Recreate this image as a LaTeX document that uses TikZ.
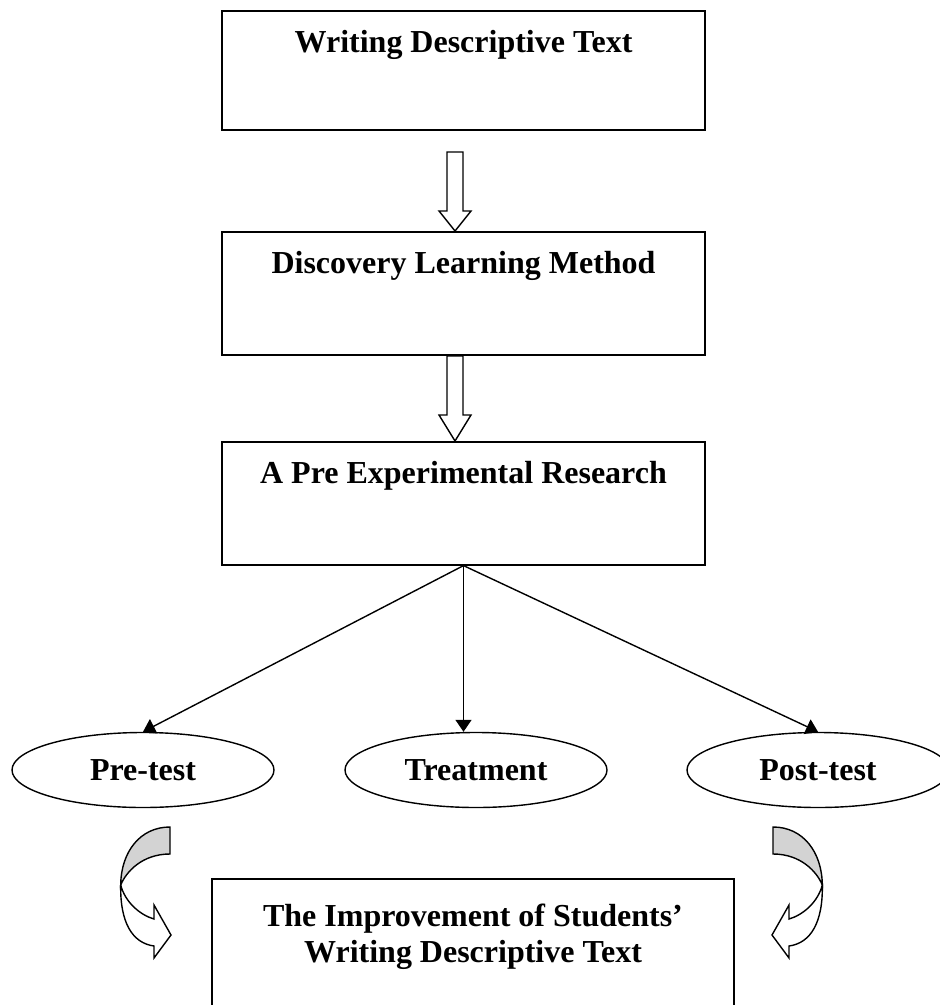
\documentclass[tikz,border=0pt]{standalone}
\usepackage{fontspec}
\setmainfont{Liberation Serif}
\usetikzlibrary{shapes.geometric,arrows.meta}
\definecolor{ribbongrey}{RGB}{211,211,211}
\tikzset{
  framebox/.style={draw, line width=0.8pt, anchor=north, minimum width=241.5pt,
                   inner sep=0pt, text height=21pt, text depth=#1,
                   font=\fontsize{16}{18}\selectfont\bfseries},
  phase/.style={ellipse, draw, line width=0.7pt, minimum width=131pt,
                minimum height=37.5pt, inner sep=0pt,
                font=\fontsize{16}{18}\selectfont\bfseries},
  blockarrow/.style={draw, fill=white, line width=0.7pt, line join=miter},
  link/.style={line width=0.7pt, -{Triangle[length=6pt,width=8pt]}},
  pics/turnarrow/.style={code={
      \draw[fill=ribbongrey, line width=0.7pt]
        (0,0) .. controls (-30,0) and (-49,25) .. (-49.3,58)
        .. controls (-44,45) and (-28,27) .. (0,27) -- cycle;
      \draw[fill=white, line width=0.7pt, line join=miter]
        (-49.3,58) .. controls (-50,95) and (-38,116) .. (-16,119)
        -- (-16,131) -- (1,108) -- (-16,78) -- (-16,92)
        .. controls (-30,88) and (-45,75) .. (-49.3,58) -- cycle;
  }}
}
\begin{document}
\begin{tikzpicture}[x=0.5pt, y=-0.5pt]
  \useasboundingbox (0,0) rectangle (940,1005);
  % main chain
  \node[framebox=38.5pt] (writing) at (463.5,10) {Writing Descriptive Text};
  \node[framebox=40.5pt] (discovery) at (463.5,231) {Discovery Learning Method};
  \node[framebox=40.5pt] (research) at (463.5,441) {A Pre Experimental Research};
  \draw[blockarrow] (447,152) -- (463,152) -- (463,211) -- (471,211)
    -- (455,231) -- (439,211) -- (447,211) -- cycle;
  \draw[blockarrow] (447,356) -- (463,356) -- (463,415) -- (471,415)
    -- (455,441) -- (439,415) -- (447,415) -- cycle;
  % the three phases
  \node[phase] (pretest) at (143,770) {Pre-test};
  \node[phase] (treatment) at (476,770) {Treatment};
  \node[phase] (posttest) at (818,770) {Post-test};
  \draw[link] (research.south) -- (pretest.north);
  \draw[link] (research.south) -- (research.south |- treatment.north);
  \draw[link] (research.south) -- (posttest.north);
  % result
  \node[framebox=30pt, minimum width=261pt, text height=42pt, align=center]
    (improvement) at (473,878) {The Improvement of Students'\\Writing Descriptive Text};
  \pic at (170,827) {turnarrow};
  \pic[xscale=-1] at (773,827) {turnarrow};
\end{tikzpicture}
\end{document}
